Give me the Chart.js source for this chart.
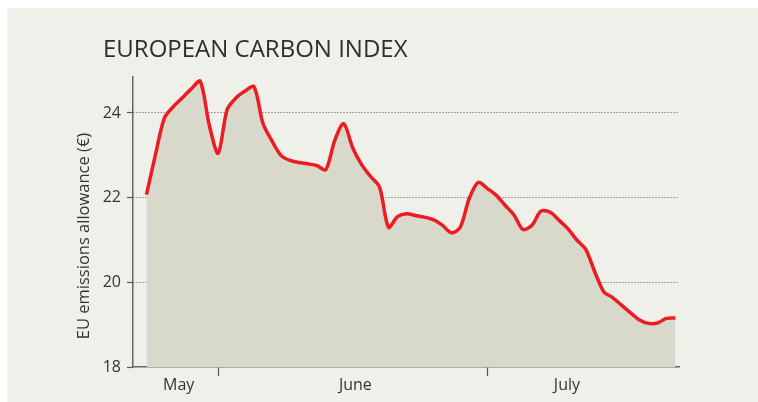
<!DOCTYPE html>
<html>
<head>
<meta charset="utf-8">
<script src="https://cdn.jsdelivr.net/npm/chart.js@4.4.1/dist/chart.umd.min.js"></script>
<style>
  html, body { margin: 0; padding: 0; background: #fff; }
  #wrap { position: absolute; left: 7px; top: 8px; width: 751px; height: 394px; background: #f0f0eb; }
</style>
</head>
<body>
<div id="wrap"><canvas id="carbonChart" width="751" height="394"></canvas></div>
<script>
// day numbers counted from 1 May (1 June = 32, 1 July = 62)
const days = [
  24, 25, 26, 27, 28, 29, 30, 31, 32, 33, 34, 35, 36, 37, 38, 39, 40, 41, 42, 43,
  44, 45, 46, 47, 48, 49, 50, 51, 52, 53, 54, 55, 56, 57, 58, 59, 60, 61, 62, 63,
  64, 65, 66, 67, 68, 69, 70, 71, 72, 73, 74, 75, 76, 77, 78, 79, 80, 81, 82, 83,
];
const allowance = [
  22.07, 23.01, 23.88, 24.15, 24.36, 24.57, 24.75, 23.72, 23.05, 24.08,
  24.36, 24.52, 24.62, 23.75, 23.34, 23.0, 22.88, 22.83, 22.8, 22.76,
  22.66, 23.35, 23.75, 23.18, 22.78, 22.5, 22.25, 21.3, 21.55, 21.62,
  21.58, 21.54, 21.48, 21.35, 21.17, 21.3, 21.98, 22.36, 22.22, 22.06,
  21.82, 21.59, 21.25, 21.35, 21.68, 21.66, 21.47, 21.27, 21.0, 20.78,
  20.25, 19.78, 19.64, 19.46, 19.28, 19.11, 19.03, 19.04, 19.15, 19.16,
];
const yTicks = [18, 20, 22, 24];
const monthStarts = [32, 62];
const monthLabels = ["May", "June", "July"];
const monthLabelDays = [27.6, 47.3, 70.9];

const chartTitle = "EUROPEAN CARBON INDEX";
const yAxisTitle = "EU emissions allowance (\u20ac)";

const FONT = "'Open Sans', 'Noto Sans', sans-serif";

const textPlugin = {
  id: "chartText",
  afterDraw(chart) {
    const ctx = chart.ctx;
    ctx.save();
    ctx.fillStyle = "#2e2e2e";
    ctx.font = "24px " + FONT;
    ctx.textAlign = "left";
    ctx.textBaseline = "alphabetic";
    ctx.fillText(chartTitle, 96, 49);

    ctx.translate(81.5, 228);
    ctx.rotate(-Math.PI / 2);
    ctx.font = "16.5px " + FONT;
    ctx.fillStyle = "#333";
    ctx.textAlign = "center";
    ctx.textBaseline = "alphabetic";
    ctx.fillText(yAxisTitle, 0, 0);
    ctx.restore();
  },
};

const chartElement = document.getElementById("carbonChart").getContext("2d");

const carbonChart = new Chart(chartElement, {
  type: "line",
  data: {
    datasets: [
      {
        label: "EU emissions allowance",
        data: days.map((d, i) => ({ x: d, y: allowance[i] })),
        borderColor: "#ec1c24",
        borderWidth: 3.5,
        backgroundColor: "#d8d9cb",
        fill: "start",
        pointRadius: 0,
        tension: 0.3,
      },
    ],
  },
  options: {
    responsive: false,
    animation: false,
    devicePixelRatio: 1,
    layout: { padding: { left: 0, right: 79, top: 69, bottom: 0 } },
    plugins: {
      legend: { display: false },
      tooltip: { enabled: false },
    },
    scales: {
      x: {
        type: "linear",
        min: 22.5,
        max: 83.4,
        afterBuildTicks: (scale) => {
          scale.ticks = monthStarts
            .concat(monthLabelDays)
            .sort((a, b) => a - b)
            .map((v) => ({ value: v }));
        },
        afterFit: (scale) => {
          scale.height = 35;
        },
        ticks: {
          autoSkip: false,
          maxRotation: 0,
          padding: 0,
          color: "#333",
          font: { family: FONT, size: 16 },
          callback: (value) => {
            const idx = monthLabelDays.indexOf(value);
            return idx >= 0 ? monthLabels[idx] : "";
          },
        },
        grid: {
          drawOnChartArea: false,
          tickLength: 9,
          tickWidth: 1.2,
          tickColor: (ctx) =>
            ctx.tick && monthStarts.includes(ctx.tick.value) ? "#555" : "transparent",
        },
        border: { color: "#666", width: 1.5 },
      },
      y: {
        min: 18,
        max: 24.85,
        afterBuildTicks: (scale) => {
          scale.ticks = yTicks.map((v) => ({ value: v }));
        },
        afterFit: (scale) => {
          scale.width = 126;
        },
        ticks: {
          padding: 6,
          color: "#333",
          font: { family: FONT, size: 16 },
        },
        grid: {
          color: (ctx) => (ctx.tick && ctx.tick.value === 18 ? "transparent" : "#555"),
          lineWidth: 1,
          tickLength: 6,
          tickWidth: 1.2,
          tickColor: "#555",
        },
        border: { color: "#666", width: 1.5, dash: [1, 2] },
      },
    },
  },
  plugins: [textPlugin],
});
</script>
</body>
</html>
